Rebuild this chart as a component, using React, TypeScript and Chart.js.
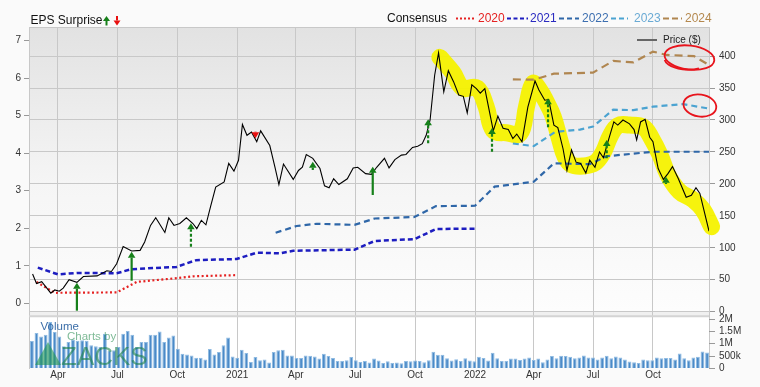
import React, { useEffect, useRef } from "react";
import { Chart, registerables } from "chart.js";

Chart.register(...registerables);

// ---------------- DATA ----------------
const tickDates = ["2020-04-01","2020-07-01","2020-10-01","2021-01-01","2021-04-01","2021-07-01","2021-10-01","2022-01-01","2022-04-01","2022-07-01","2022-10-01"];
const tickLabels = ["Apr","Jul","Oct","2021","Apr","Jul","Oct","2022","Apr","Jul","Oct"];

const priceDates = [
  "2020-02-22","2020-02-28","2020-03-07","2020-03-21","2020-03-27","2020-04-03","2020-04-09","2020-04-18","2020-04-30","2020-05-10",
  "2020-05-31","2020-06-15","2020-06-22","2020-06-30","2020-07-10","2020-07-23","2020-08-05","2020-08-12","2020-08-21","2020-08-29",
  "2020-09-12","2020-09-18","2020-09-26","2020-10-05","2020-10-15","2020-10-25","2020-10-31","2020-11-07","2020-11-14","2020-11-21",
  "2020-11-29","2020-12-12","2020-12-19","2020-12-27","2021-01-03","2021-01-09","2021-01-16","2021-01-23","2021-01-31","2021-02-06",
  "2021-02-20","2021-02-28","2021-03-06","2021-03-13","2021-03-28","2021-04-05","2021-04-11","2021-04-17","2021-04-27","2021-05-08",
  "2021-05-15","2021-05-22","2021-05-29","2021-06-06","2021-06-19","2021-06-28","2021-07-05","2021-07-17","2021-07-26","2021-08-03",
  "2021-08-15","2021-08-22","2021-08-31","2021-09-10","2021-09-17","2021-09-27","2021-10-05","2021-10-12","2021-10-18","2021-10-24",
  "2021-10-31","2021-11-06","2021-11-14","2021-11-21","2021-11-29","2021-12-07","2021-12-14","2021-12-20","2021-12-27","2022-01-03",
  "2022-01-09","2022-01-16","2022-01-29","2022-02-05","2022-02-13","2022-02-21","2022-02-28","2022-03-06","2022-03-14","2022-03-23",
  "2022-04-03","2022-04-09","2022-04-18","2022-04-24","2022-05-02","2022-05-08","2022-05-16","2022-05-22","2022-05-29","2022-06-05",
  "2022-06-12","2022-06-20","2022-06-26","2022-07-04","2022-07-11","2022-07-17","2022-07-24","2022-08-02","2022-08-08","2022-08-16",
  "2022-08-26","2022-09-02","2022-09-06","2022-09-12","2022-09-19","2022-09-26","2022-10-01","2022-10-09","2022-10-17","2022-10-24",
  "2022-10-31","2022-11-09","2022-11-21","2022-11-29","2022-12-06","2022-12-12","2022-12-26"
];
const priceValues = [
  59,44,47,29,34,32,37,50,46,55,
  56,64,63,75,102,95,96,109,135,147,
  124,147,135,138,147,138,130,143,136,164,
  195,203,232,220,237,293,276,281,266,283,
  260,226,199,231,207,221,226,246,240,224,
  197,194,208,199,208,225,226,216,215,226,
  240,225,238,245,246,257,259,263,276,300,
  370,405,344,377,360,339,337,311,355,349,
  342,349,283,306,287,285,271,278,266,320,
  361,347,331,332,292,288,255,221,253,234,
  232,217,237,226,250,241,266,297,292,300,
  294,285,269,297,301,273,266,224,207,216,
  227,208,179,182,194,185,126
];

const cons2020Dates = ["2020-02-28","2020-03-27","2020-06-30","2020-07-31","2020-09-30","2020-10-25","2020-12-31"];
const cons2020Values = [0.57,0.28,0.29,0.57,0.67,0.72,0.75];

const cons2021Dates = ["2020-03-01","2020-04-01","2020-04-30","2020-06-30","2020-07-23","2020-09-30","2020-10-30","2020-12-31","2021-01-31","2021-03-07","2021-03-28","2021-06-30","2021-07-31","2021-09-30","2021-11-02","2022-01-01"];
const cons2021Values = [0.95,0.77,0.81,0.80,0.91,0.97,1.15,1.18,1.35,1.33,1.40,1.43,1.66,1.71,1.98,1.99];

const cons2022Dates = ["2021-03-01","2021-04-02","2021-05-03","2021-06-30","2021-07-31","2021-09-30","2021-11-02","2022-01-01","2022-01-31","2022-04-01","2022-05-02","2022-06-26","2022-07-22","2022-10-01","2022-12-26"];
const cons2022Values = [1.88,2.06,2.12,2.09,2.26,2.30,2.59,2.60,3.11,3.24,3.73,3.71,3.92,4.04,4.04];

const cons2023Dates = ["2022-02-28","2022-04-01","2022-05-04","2022-06-11","2022-07-01","2022-08-01","2022-09-01","2022-10-01","2022-11-16","2022-12-26"];
const cons2023Values = [4.26,4.19,4.57,4.63,4.71,5.16,5.15,5.24,5.31,5.19];

const cons2024Dates = ["2022-02-28","2022-04-01","2022-05-02","2022-07-01","2022-08-01","2022-09-01","2022-10-01","2022-10-22","2022-12-03","2022-12-26"];
const cons2024Values = [5.97,5.96,6.12,6.15,6.46,6.42,6.71,6.62,6.59,6.35];

// EPS surprise arrows (price units: from -> to)
const surpriseDates = ["2020-04-30","2020-07-23","2020-10-22","2021-01-29","2021-04-27","2021-07-28","2021-10-21","2022-01-27","2022-04-23","2022-07-22","2022-10-21"];
const surpriseFrom = [1.6,48.5,101.7,281.7,221.8,182.6,263.5,250.4,288.6,240,199.8];
const surpriseTo = [45.4,93.9,138.3,271.4,234.7,226.9,301.1,287.5,334,268.7,211.3];
const surpriseDashed = [false,false,true,false,false,false,true,true,true,true,false];

// weekly volume (millions of shares)
const volumeStart = "2020-02-21";
const volumeMillions = [
  1.09,1.42,1.28,1.35,1.86,1.46,1.28,0.88,1.05,1.15,
  1.10,1.12,1.10,0.92,0.88,0.85,1.39,0.70,0.72,0.85,
  1.39,1.50,1.35,0.85,1.05,1.05,1.35,1.35,1.48,1.05,
  1.23,1.32,0.78,0.58,0.55,0.51,0.42,0.42,0.34,0.77,
  0.55,0.65,0.92,1.23,0.47,0.42,0.74,0.61,0.24,0.45,
  0.31,0.34,0.22,0.65,0.72,0.74,0.51,0.51,0.40,0.40,
  0.51,0.50,0.47,0.38,0.58,0.49,0.40,0.28,0.28,0.31,
  0.45,0.31,0.24,0.28,0.22,0.38,
  0.30,0.20,0.27,0.20,0.22,0.19,0.28,0.27,0.30,0.28,
  0.23,0.31,0.66,0.54,0.54,0.39,0.30,0.35,0.28,0.39,
  0.30,0.27,0.46,
  0.40,0.30,0.62,0.39,0.28,0.28,0.38,0.38,0.32,0.38,
  0.43,0.32,0.38,0.23,0.34,0.49,0.39,0.50,0.49,0.46,
  0.39,0.43,0.51,0.43,0.43,0.34,0.43,0.50,0.39,0.47,
  0.43,0.34,0.26,0.23,0.20,0.34,0.31,0.31,0.43,0.39,
  0.40,0.40,0.34,0.59,0.39,0.31,0.43,0.46,0.67,0.63
];
const volumeTickValues = [0, 0.5, 1, 1.5, 2];
const volumeTickLabels = ["0", "500k", "1M", "1.5M", "2M"];

// hand-drawn yellow highlight (price units)
const highlightDates = ["2021-11-08","2021-11-28","2021-12-13","2022-01-04","2022-01-18","2022-01-29","2022-02-18","2022-03-11","2022-03-21","2022-03-31","2022-04-10","2022-04-20","2022-05-01","2022-05-11","2022-05-19","2022-05-29","2022-06-16","2022-07-04","2022-07-17","2022-07-27","2022-08-08","2022-08-26","2022-09-16","2022-09-29","2022-10-12","2022-10-24","2022-11-11","2022-12-02","2022-12-17","2022-12-30"];
const highlightValues = [398,374,350,350,321,284,280,279,321,357,347,329,305,269,243,230,228,233,250,274,291,292,289,271,245,214,188,175,159,133];

// hand-drawn red circles (date, EPS value)
const circleDates = ["2022-11-26", "2022-12-12"];
const circleValues = [6.55, 5.27];

// ---------------- HELPERS ----------------
const DAY0 = Date.UTC(2020, 0, 1);
const toDay = (s: string) => {
  const [y, m, d] = s.split("-").map(Number);
  return (Date.UTC(y, m - 1, d) - DAY0) / 86400000;
};
const pts = (dates: string[], vals: number[]) => dates.map((d, i) => ({ x: toDay(d), y: vals[i] }));
const tickDays = tickDates.map(toDay);
const volumeStartDay = toDay(volumeStart);

const FONT = 'Arial, "Liberation Sans", Helvetica, sans-serif';

function drawArrow(ctx: CanvasRenderingContext2D, x: number, y0: number, y1: number, color: string, dashed: boolean, headW = 3.7, headH = 6, lw = 2.2) {
  const dir = y1 < y0 ? -1 : 1;
  ctx.save();
  ctx.strokeStyle = color;
  ctx.fillStyle = color;
  ctx.lineWidth = lw;
  if (dashed) ctx.setLineDash([3, 2]);
  ctx.beginPath();
  ctx.moveTo(x, y0);
  ctx.lineTo(x, y1 - dir * headH);
  ctx.stroke();
  ctx.setLineDash([]);
  ctx.beginPath();
  ctx.moveTo(x, y1);
  ctx.lineTo(x - headW, y1 - dir * headH);
  ctx.lineTo(x + headW, y1 - dir * headH);
  ctx.closePath();
  ctx.fill();
  ctx.restore();
}

const panelPlugin = {
  id: "panels",
  beforeDraw(chart: any) {
    const { ctx, chartArea: a, scales } = chart;
    const mainBottom = scales.yR.getPixelForValue(0);
    const volTop = mainBottom + 4.5;
    ctx.save();
    ctx.fillStyle = "#fafafa";
    ctx.fillRect(0, 0, chart.width, chart.height);
    const g = ctx.createLinearGradient(0, a.top, 0, mainBottom);
    g.addColorStop(0, "#e2e2e2");
    g.addColorStop(0.55, "#f5f5f5");
    g.addColorStop(1, "#fdfdfd");
    ctx.fillStyle = g;
    ctx.fillRect(a.left, a.top, a.width, mainBottom - a.top);
    ctx.fillStyle = "#f0f0f0";
    ctx.fillRect(a.left, mainBottom, a.width, volTop - mainBottom);
    ctx.fillStyle = "#ffffff";
    ctx.fillRect(a.left, volTop, a.width, a.bottom - volTop);
    ctx.restore();
  },
  beforeDatasetsDraw(chart: any) {
    const { ctx, chartArea: a, scales } = chart;
    const mainBottom = scales.yR.getPixelForValue(0);
    const volTop = mainBottom + 4.5;
    ctx.save();
    ctx.strokeStyle = "#c8c8c8";
    ctx.lineWidth = 1;
    ctx.beginPath();
    ctx.moveTo(a.left, a.top + 0.5);
    ctx.lineTo(a.right, a.top + 0.5);
    ctx.stroke();
    ctx.strokeStyle = "#d4d4d4";
    ctx.lineWidth = 2;
    ctx.beginPath();
    ctx.moveTo(a.left, volTop);
    ctx.lineTo(a.right, volTop);
    ctx.stroke();
    ctx.restore();
  },
  afterDatasetsDraw(chart: any) {
    const { ctx, chartArea: a, scales } = chart;
    const x = scales.x, yR = scales.yR, yL = scales.yL, yV = scales.yV;

    // watermark
    ctx.save();
    ctx.fillStyle = "rgba(30,150,80,0.6)";
    ctx.beginPath();
    ctx.moveTo(35, 365);
    ctx.lineTo(48, 342);
    ctx.lineTo(61, 365);
    ctx.closePath();
    ctx.fill();
    ctx.fillStyle = "rgba(40,140,80,0.6)";
    ctx.font = `11.5px ${FONT}`;
    ctx.textBaseline = "middle";
    ctx.fillText("Charts by", 67, 336.5);
    ctx.fillStyle = "rgba(30,130,75,0.62)";
    ctx.font = `26px ${FONT}`;
    ctx.textBaseline = "alphabetic";
    ctx.fillText("ZACKS", 61, 365);
    ctx.fillStyle = "#3c6ea8";
    ctx.font = `11.5px ${FONT}`;
    ctx.textBaseline = "middle";
    ctx.fillText("Volume", 40.5, 327);
    ctx.restore();

    // surprise arrows
    surpriseDates.forEach((d, i) => {
      const px = x.getPixelForValue(toDay(d));
      const up = surpriseTo[i] > surpriseFrom[i];
      const y0 = yR.getPixelForValue(surpriseFrom[i]);
      const y1 = yR.getPixelForValue(surpriseTo[i]);
      drawArrow(ctx, px, y0, y1, up ? "#16801a" : "#e81010", surpriseDashed[i], 3.8, 6, 2.2);
    });

    // red hand-drawn circles
    ctx.save();
    ctx.strokeStyle = "#e8141c";
    ctx.lineWidth = 1.8;
    const c1x = x.getPixelForValue(toDay(circleDates[0]));
    const c1y = yL.getPixelForValue(circleValues[0]);
    ctx.beginPath();
    ctx.ellipse(c1x, c1y, 25, 12, 0.12, 0, Math.PI * 2);
    ctx.stroke();
    ctx.beginPath();
    ctx.ellipse(c1x - 3, c1y + 2, 22, 10, 0.05, 0.3 * Math.PI, 0.95 * Math.PI);
    ctx.stroke();
    const c2x = x.getPixelForValue(toDay(circleDates[1]));
    const c2y = yL.getPixelForValue(circleValues[1]);
    ctx.beginPath();
    ctx.ellipse(c2x, c2y, 16.5, 11, 0.15, 0, Math.PI * 2);
    ctx.stroke();
    ctx.restore();

    // volume axis
    ctx.save();
    ctx.font = `10px ${FONT}`;
    ctx.fillStyle = "#333";
    ctx.textBaseline = "middle";
    ctx.textAlign = "left";
    ctx.strokeStyle = "#999";
    ctx.lineWidth = 1;
    volumeTickValues.forEach((v, i) => {
      const py = Math.round(yV.getPixelForValue(v)) + 0.5;
      ctx.beginPath();
      ctx.moveTo(a.right, py);
      ctx.lineTo(a.right + 6, py);
      ctx.stroke();
      ctx.fillText(volumeTickLabels[i], a.right + 10, py);
    });
    ctx.restore();
  },
  afterDraw(chart: any) {
    const { ctx } = chart;
    ctx.save();
    ctx.textBaseline = "middle";
    ctx.textAlign = "left";
    ctx.font = `12px ${FONT}`;
    ctx.fillStyle = "#111";
    ctx.fillText("EPS Surprise", 30.5, 20.7);
    drawArrow(ctx, 106.5, 25.5, 16, "#16801a", false, 3.5, 5, 2);
    drawArrow(ctx, 117, 16, 25.5, "#e81010", false, 3.5, 5, 2);

    ctx.fillStyle = "#111";
    ctx.fillText("Consensus", 387, 18.3);
    const items = [
      { x0: 456, x1: 475, tx: 478, color: "#e52222", tcolor: "#e52222", dash: [2, 2], label: "2020" },
      { x0: 507, x1: 528, tx: 530, color: "#1d1dc0", tcolor: "#2a2ac0", dash: [4, 2.5], label: "2021" },
      { x0: 559, x1: 579, tx: 582, color: "#2f67a8", tcolor: "#3d6fb0", dash: [5, 3], label: "2022" },
      { x0: 611, x1: 628, tx: 634, color: "#4ba3d1", tcolor: "#6aaad4", dash: [5, 3], label: "2023" },
      { x0: 663, x1: 682, tx: 685, color: "#b08650", tcolor: "#b4884e", dash: [6, 3], label: "2024" },
    ];
    items.forEach((it) => {
      ctx.strokeStyle = it.color;
      ctx.lineWidth = 2;
      ctx.setLineDash(it.dash);
      ctx.beginPath();
      ctx.moveTo(it.x0, 18.5);
      ctx.lineTo(it.x1, 18.5);
      ctx.stroke();
      ctx.setLineDash([]);
      ctx.fillStyle = it.tcolor;
      ctx.fillText(it.label, it.tx, 18.3);
    });

    // Price legend
    ctx.strokeStyle = "#666";
    ctx.lineWidth = 2;
    ctx.beginPath();
    ctx.moveTo(637, 40);
    ctx.lineTo(657, 40);
    ctx.stroke();
    ctx.font = `10px ${FONT}`;
    ctx.fillStyle = "#222";
    ctx.fillText("Price ($)", 663, 40);
    ctx.restore();
  },
};

export default function App() {
  const ref = useRef<HTMLCanvasElement | null>(null);

  useEffect(() => {
    if (!ref.current) return;
    Chart.defaults.font.family = FONT;
    const consensusStyle = (color: string, dash: number[], width: number) => ({
      type: "line" as const,
      yAxisID: "yL",
      borderColor: color,
      borderWidth: width,
      borderDash: dash,
      pointRadius: 0,
      tension: 0,
      fill: false,
      order: 3,
    });
    const chart = new Chart(ref.current, {
      type: "line",
      data: {
        datasets: [
          {
            type: "bar",
            label: "Volume",
            yAxisID: "yV",
            data: volumeMillions.map((v, i) => ({ x: volumeStartDay + 7 * i, y: v })),
            backgroundColor: "#4a8ac8",
            borderColor: "#8fbbe2",
            borderWidth: { left: 1, right: 1, top: 1, bottom: 0 },
            barPercentage: 0.84,
            categoryPercentage: 1,
            order: 10,
          } as any,
          {
            type: "line",
            label: "highlight",
            yAxisID: "yR",
            data: pts(highlightDates, highlightValues),
            borderColor: "rgba(245,242,0,0.95)",
            borderWidth: 17,
            borderCapStyle: "round",
            borderJoinStyle: "round",
            tension: 0.4,
            pointRadius: 0,
            clip: false,
            order: 6,
          } as any,
          { label: "2020", data: pts(cons2020Dates, cons2020Values), ...consensusStyle("#e52222", [2, 2.5], 2.2) } as any,
          { label: "2021", data: pts(cons2021Dates, cons2021Values), ...consensusStyle("#1d1dc0", [5, 3], 2.5) } as any,
          { label: "2022", data: pts(cons2022Dates, cons2022Values), ...consensusStyle("#2f67a8", [6, 4], 2.2) } as any,
          { label: "2023", data: pts(cons2023Dates, cons2023Values), ...consensusStyle("#4ba3d1", [6, 4], 2.2) } as any,
          { label: "2024", data: pts(cons2024Dates, cons2024Values), ...consensusStyle("#b08650", [8, 5], 2.2) } as any,
          {
            type: "line",
            label: "Price",
            yAxisID: "yR",
            data: pts(priceDates, priceValues),
            borderColor: "#000000",
            borderWidth: 1.1,
            pointRadius: 0,
            tension: 0,
            order: 1,
          } as any,
        ],
      },
      options: {
        responsive: false,
        animation: false,
        devicePixelRatio: 1,
        layout: { padding: { top: 27, left: 0, right: 0, bottom: 0 } },
        plugins: { legend: { display: false }, tooltip: { enabled: false } },
        scales: {
          x: {
            type: "linear",
            min: 46.5,
            max: 1090,
            offset: false,
            afterBuildTicks: (s: any) => {
              s.ticks = tickDays.map((v) => ({ value: v }));
            },
            afterFit: (s: any) => {
              s.height = 19;
            },
            ticks: {
              autoSkip: false,
              maxRotation: 0,
              padding: 1,
              color: "#333",
              font: { size: 10 },
              callback: (v: any) => {
                const i = tickDays.indexOf(Number(v));
                return i >= 0 ? tickLabels[i] : "";
              },
            },
            grid: { color: "#c8c8c8", drawTicks: false, offset: false },
            border: { display: false },
          },
          yL: {
            type: "linear",
            position: "left",
            min: -1.725,
            max: 7.365,
            afterBuildTicks: (s: any) => {
              s.ticks = [0, 1, 2, 3, 4, 5, 6, 7].map((v) => ({ value: v }));
            },
            afterFit: (s: any) => {
              s.width = 29;
            },
            ticks: { color: "#333", font: { size: 10 }, padding: 3 },
            grid: { drawOnChartArea: false, tickLength: 5, tickColor: "#999" },
            border: { color: "#c8c8c8" },
          },
          yR: {
            type: "linear",
            position: "right",
            min: -88.1,
            max: 445.5,
            afterBuildTicks: (s: any) => {
              s.ticks = [0, 50, 100, 150, 200, 250, 300, 350, 400].map((v) => ({ value: v }));
            },
            afterFit: (s: any) => {
              s.width = 51;
            },
            ticks: { color: "#333", font: { size: 10 }, padding: 4 },
            grid: { color: "#c8c8c8", tickLength: 6, tickColor: "#999" },
            border: { color: "#c8c8c8" },
          },
          yV: {
            type: "linear",
            display: false,
            min: 0,
            max: 13.806,
          },
        },
      } as any,
      plugins: [panelPlugin],
    });
    return () => chart.destroy();
  }, []);

  return (
    <div style={{ position: "absolute", left: 0, top: 0, width: 760, height: 387, background: "#fafafa" }}>
      <canvas ref={ref} width={760} height={387} style={{ display: "block", width: 760, height: 387 }} />
    </div>
  );
}
